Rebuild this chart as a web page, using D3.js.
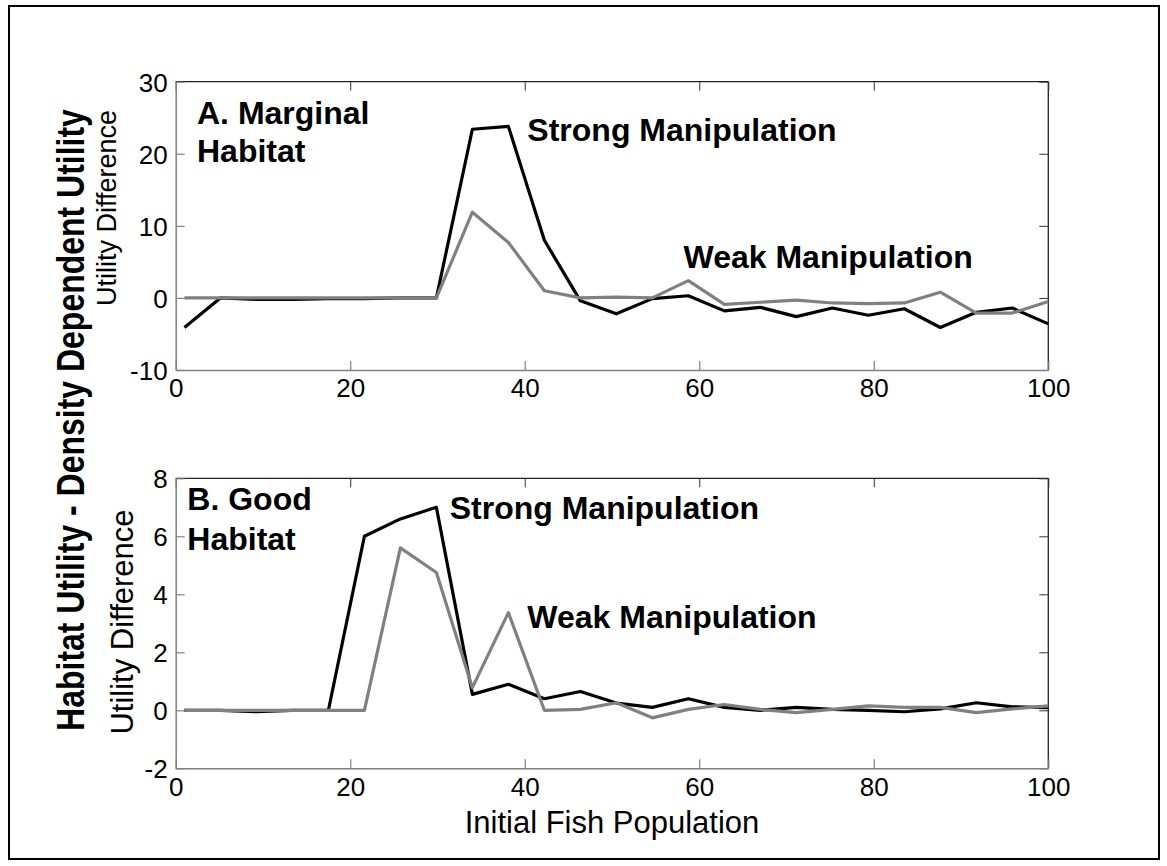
<!DOCTYPE html>
<html>
<head>
<meta charset="utf-8">
<script src="https://cdn.jsdelivr.net/npm/d3@7"></script>
<style>
    body { margin: 0; background: #fff; }
    svg text { font-family: "Liberation Sans", Arial, sans-serif; }
</style>
</head>
<body>
<div id="chart"></div>
<script>
// initial fish population (x) sampled for both panels
var popValues = [1, 5.125, 9.25, 13.375, 17.5, 21.625, 25.75, 29.875, 34, 38.125,
    42.25, 46.375, 50.5, 54.625, 58.75, 62.875, 67, 71.125, 75.25, 79.375,
    83.5, 87.625, 91.75, 95.875, 100]

// A. Marginal habitat
var marginalStrong = [-4.1, 0, -0.2, -0.2, -0.1, -0.1, 0, 0, 23.4, 23.8,
    8.0, -0.4, -2.2, -0.1, 0.3, -1.8, -1.3, -2.6, -1.4, -2.4,
    -1.5, -4.1, -2.0, -1.4, -3.6]
var marginalWeak = [0, 0, 0, 0, 0, 0, 0, 0, 11.9, 7.7,
    1.0, 0, 0.1, 0, 2.4, -0.9, -0.6, -0.3, -0.7, -0.8,
    -0.7, 0.8, -2.1, -2.1, -0.5]

// B. Good habitat
var goodStrong = [0, 0, -0.05, 0, 0, 6.0, 6.6, 7.0, 0.55, 0.9,
    0.4, 0.65, 0.25, 0.1, 0.4, 0.1, 0, 0.1, 0.03, 0,
    -0.05, 0.05, 0.26, 0.12, 0.09]
var goodWeak = [0, 0, 0, 0, 0, 0, 5.6, 4.75, 0.78, 3.37,
    0, 0.03, 0.26, -0.26, 0.03, 0.2, 0.03, -0.08, 0.03, 0.15,
    0.1, 0.1, -0.08, 0.05, 0.15]

var xTicks = [0, 20, 40, 60, 80, 100]
var marginalTicks = [-10, 0, 10, 20, 30]
var goodTicks = [-2, 0, 2, 4, 6, 8]

var width = 1167
var height = 866

var svg = d3.select('#chart').append('svg')
    .attr('width', width)
    .attr('height', height)

svg.append('rect')
    .attr('width', width).attr('height', height)
    .attr('fill', '#fff')

// outer figure frame
svg.append('rect')
    .attr('x', 9).attr('y', 6)
    .attr('width', 1150).attr('height', 853)
    .attr('fill', 'none')
    .attr('stroke', '#000')
    .attr('stroke-width', 2)

var left = 175.7, right = 1048.3

var panels = [
    {
        top: 81.7, bottom: 370, domain: [-10, 30], ticks: marginalTicks,
        strong: marginalStrong, weak: marginalWeak,
        ylabelX: 116, ylabelY: 208, ylabelSize: 27,
        notes: [
            { text: 'A. Marginal', x: 2.44, y: 24.2 },
            { text: 'Habitat', x: 2.44, y: 18.8 },
            { text: 'Strong Manipulation', x: 40.3, y: 21.8 },
            { text: 'Weak Manipulation', x: 58.2, y: 4.16 }
        ]
    },
    {
        top: 478.3, bottom: 768.3, domain: [-2, 8], ticks: goodTicks,
        strong: goodStrong, weak: goodWeak,
        ylabelX: 133, ylabelY: 622, ylabelSize: 31,
        notes: [
            { text: 'B. Good', x: 1.33, y: 6.9 },
            { text: 'Habitat', x: 1.33, y: 5.54 },
            { text: 'Strong Manipulation', x: 31.4, y: 6.61 },
            { text: 'Weak Manipulation', x: 40.3, y: 2.83 }
        ]
    }
]

var x = d3.scaleLinear().domain([0, 100]).range([left, right])

// plain hyphen for negatives, like the original
var fmt = function(d) { return String(d) }

panels.forEach(function(p) {
    var y = d3.scaleLinear().domain(p.domain).range([p.bottom, p.top])
    var g = svg.append('g')

    var line = d3.line()
        .x(function(d, i) { return x(popValues[i]) })
        .y(function(d) { return y(d) })

    // box: top/right dark, left/bottom grey
    g.append('line')
        .attr('x1', left).attr('x2', right).attr('y1', p.top).attr('y2', p.top)
        .attr('stroke', '#222').attr('stroke-width', 1.3)
    g.append('line')
        .attr('x1', right).attr('x2', right).attr('y1', p.top).attr('y2', p.bottom)
        .attr('stroke', '#222').attr('stroke-width', 1.3)

    // inward ticks on top and right
    g.append('g')
        .attr('transform', 'translate(0,' + p.top + ')')
        .call(d3.axisTop(x).tickValues(xTicks).tickSize(-9).tickSizeOuter(0).tickFormat(''))
        .call(function(a) { a.select('.domain').remove() })
        .selectAll('line').attr('stroke', '#333')
    g.append('g')
        .attr('transform', 'translate(' + right + ',0)')
        .call(d3.axisRight(y).tickValues(p.ticks).tickSize(-9).tickSizeOuter(0).tickFormat(''))
        .call(function(a) { a.select('.domain').remove() })
        .selectAll('line').attr('stroke', '#333')

    var xAxis = g.append('g')
        .attr('transform', 'translate(0,' + p.bottom + ')')
        .call(d3.axisBottom(x).tickValues(xTicks).tickFormat(fmt)
            .tickSize(-9).tickSizeOuter(0).tickPadding(9))
    var yAxis = g.append('g')
        .attr('transform', 'translate(' + left + ',0)')
        .call(d3.axisLeft(y).tickValues(p.ticks).tickFormat(fmt)
            .tickSize(-9).tickSizeOuter(0).tickPadding(8))

    ;[xAxis, yAxis].forEach(function(a) {
        a.select('.domain').attr('stroke', '#808080').attr('stroke-width', 1.5)
        a.selectAll('.tick line').attr('stroke', '#808080').attr('stroke-width', 1.2)
        a.selectAll('.tick text')
            .attr('fill', '#000')
            .style('font-size', '26px')
    })
    xAxis.selectAll('.tick text').attr('dy', '0.71em')
    yAxis.selectAll('.tick text').attr('dy', '0.36em')

    g.append('path')
        .datum(p.strong)
        .attr('d', line)
        .attr('fill', 'none')
        .attr('stroke', '#000')
        .attr('stroke-width', 3.2)
        .attr('stroke-linejoin', 'round')

    g.append('path')
        .datum(p.weak)
        .attr('d', line)
        .attr('fill', 'none')
        .attr('stroke', '#808080')
        .attr('stroke-width', 3.2)
        .attr('stroke-linejoin', 'round')

    g.selectAll('.note')
        .data(p.notes)
        .enter().append('text')
        .attr('class', 'note')
        .attr('x', function(d) { return x(d.x) })
        .attr('y', function(d) { return y(d.y) })
        .style('font-size', '32px')
        .style('font-weight', 'bold')
        .text(function(d) { return d.text })

    g.append('text')
        .attr('transform', 'translate(' + p.ylabelX + ',' + p.ylabelY + ') rotate(-90)')
        .attr('text-anchor', 'middle')
        .style('font-size', p.ylabelSize + 'px')
        .text('Utility Difference')
})

svg.append('text')
    .attr('x', (left + right) / 2)
    .attr('y', 833)
    .attr('text-anchor', 'middle')
    .style('font-size', '31px')
    .text('Initial Fish Population')

// the original label is tall and squeezed along its length
svg.append('text')
    .attr('transform', 'translate(84,420) rotate(-90) scale(0.82,1)')
    .attr('text-anchor', 'middle')
    .style('font-size', '39px')
    .style('font-weight', 'bold')
    .text('Habitat Utility - Density Dependent Utility')
</script>
</body>
</html>
